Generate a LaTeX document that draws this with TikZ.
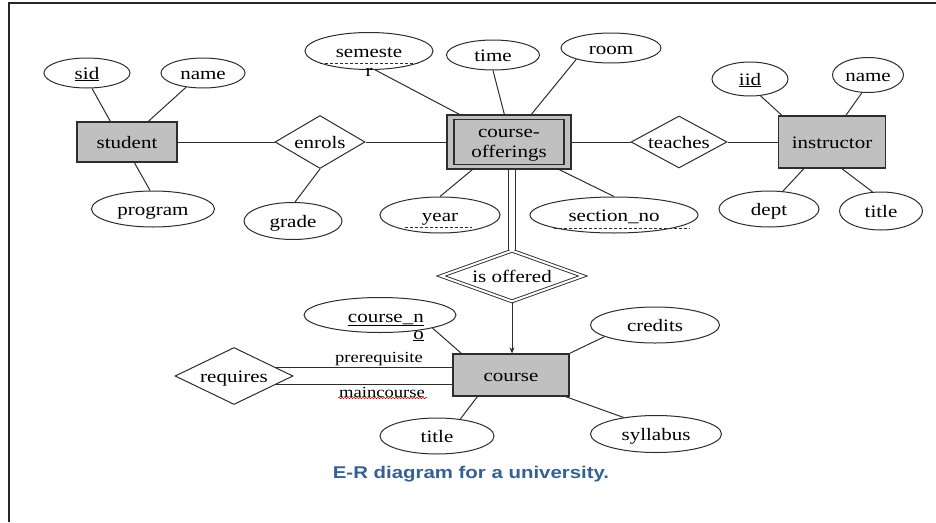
\documentclass[tikz,border=0pt]{standalone}
\usepackage{fontspec}
\setmainfont{Liberation Serif}[FakeStretch=1.2]
\newfontfamily\capfont{Liberation Sans}[FakeStretch=1.2]
\usetikzlibrary{shapes.geometric,arrows.meta,decorations.pathmorphing}
\definecolor{boxgray}{RGB}{192,192,192}
\definecolor{linecol}{RGB}{45,45,45}
\definecolor{capblue}{RGB}{54,96,146}
\begin{document}
\begin{tikzpicture}[x=1pt,y=-1pt,
  every node/.style={font=\fontsize{17.5}{20}\selectfont, text=black, text height=12pt, text depth=0pt},
  attr/.style={ellipse, draw=linecol, line width=1pt, fill=white, inner sep=0pt},
  entity/.style={rectangle, draw=linecol, fill=boxgray, line width=1.3pt, inner sep=0pt},
  rel/.style={diamond, aspect=2, draw=linecol, line width=1pt, fill=white, inner sep=0pt},
  conn/.style={draw=linecol, line width=1pt},
  lab/.style={font=\fontsize{15.5}{18}\selectfont, inner sep=0pt},
  plain/.style={inner sep=0pt},
  dashline/.style={draw=linecol, line width=0.9pt, dash pattern=on 3pt off 2pt}
  ]
\useasboundingbox (0,0) rectangle (936,522);
\draw[line width=1.6pt, black!85] (936,3) -- (9,3) -- (9,522);

% entities
\node[entity, minimum width=100pt, minimum height=40pt] (student) at (127,142) {student};
\node[entity, minimum width=124pt, minimum height=54pt] (co) at (509,142) {};
\node[draw=linecol, line width=1.3pt, minimum width=110pt, minimum height=45pt, inner sep=0pt] (coin) at (co.center) {};
\node[plain, anchor=base] (cotext1) at (509,137) {course-};
\node[plain, anchor=base] (cotext2) at (509,157) {offerings};
\node[entity, minimum width=107pt, minimum height=52pt] (instructor) at (832,142) {instructor};
\node[entity, minimum width=116pt, minimum height=42pt] (course) at (511,375) {course};

% relationships
\node[rel, minimum width=90pt, minimum height=53pt] (enrols) at (320,142) {enrols};
\node[rel, minimum width=96pt, minimum height=52pt] (teaches) at (679,142) {teaches};
\node[rel, aspect=3, minimum width=142pt, minimum height=51pt, double=white, double distance=2pt, line width=0.9pt] (isoff) at (512,276) {is offered};
\node[rel, minimum width=118pt, minimum height=57pt] (requires) at (234,376) {requires};

% attributes
\node[attr, minimum width=86pt, minimum height=30pt] (sid) at (87,73) {\underline{sid}};
\node[attr, minimum width=84pt, minimum height=30pt] (sname) at (203,73) {name};
\node[attr, minimum width=123pt, minimum height=36pt] (program) at (153,209) {program};
\node[attr, minimum width=98pt, minimum height=37pt] (grade) at (293,221) {grade};
\node[attr, minimum width=128pt, minimum height=37pt] (semester) at (369,51) {};
\node[plain, anchor=base] (semtext) at (369,57) {semeste};
\node[plain, anchor=base] (semr) at (369,76) {r};
\node[attr, minimum width=93pt, minimum height=30pt] (time) at (493,55) {time};
\node[attr, minimum width=100pt, minimum height=30pt] (room) at (611,48) {room};
\node[attr, minimum width=120pt, minimum height=36pt] (year) at (440,215) {year};
\node[attr, minimum width=168pt, minimum height=36pt] (section) at (614,215) {section\_no};
\node[attr, minimum width=76pt, minimum height=34pt] (iid) at (750,79) {\underline{iid}};
\node[attr, minimum width=71pt, minimum height=35pt] (iname) at (868,75) {name};
\node[attr, minimum width=100pt, minimum height=36pt] (dept) at (769,209) {dept};
\node[attr, minimum width=83pt, minimum height=38pt] (ititle) at (881,211) {title};
\node[attr, minimum width=152pt, minimum height=35pt] (courseno) at (380,315) {};
\node[plain, anchor=base east] (cntext) at (424,322) {\underline{course\_n}};
\node[plain, anchor=base east] (cno) at (424,339) {\underline{o}};
\node[attr, minimum width=129pt, minimum height=36pt] (credits) at (655,325) {credits};
\node[attr, minimum width=131pt, minimum height=37pt] (syllabus) at (656,434) {syllabus};
\node[attr, minimum width=114pt, minimum height=36pt] (ctitle) at (437,436) {title};

% partial-key dashed underlines
\draw[dashline] (320,63) -- (418,63);
\draw[dashline] (405,227) -- (472,227);
\draw[dashline] (554,228) -- (690,228);

% role labels
\node[lab] (prereq) at (379,356) {prerequisite};
\node[lab] (mainc) at (382,391) {maincourse};
\draw[red, line width=0.5pt, decorate, decoration={snake, amplitude=0.8pt, segment length=3pt}] (338,398) -- (427,398);

% connectors
\draw[conn] (sid.-72) -- ([xshift=34pt]student.north west);
\draw[conn] (sname.-140) -- ([xshift=72pt]student.north west);
\draw[conn] (program.99) -- ([xshift=58pt]student.south west);
\draw[conn] (student.east) -- (enrols.west);
\draw[conn] (enrols.south) -- (grade.84);
\draw[conn] (enrols.east) -- (co.west);
\draw[conn] (semester.-72) -- ([xshift=13pt]co.north west);
\draw[conn] (time.south) -- ([xshift=58pt]co.north west);
\draw[conn] (room.-162) -- ([xshift=85pt]co.north west);
\draw[conn] (year.north) -- ([xshift=26pt]co.south west);
\draw[conn] (section.north) -- ([xshift=113pt]co.south west);
\draw[conn] (co.east) -- (teaches.west);
\draw[conn] (teaches.east) -- (instructor.west);
\draw[conn] (iid.-58) -- ([xshift=4pt]instructor.north west);
\draw[conn] (iname.-109) -- ([xshift=68pt]instructor.north west);
\draw[conn] (dept.52) -- ([xshift=26pt]instructor.south west);
\draw[conn] (ititle.114) -- ([xshift=64pt]instructor.south west);
\draw[linecol, line width=1pt, double=white, double distance=6pt] (isoff.north |- co.south) -- (isoff.north);
\draw[conn, -{Stealth[length=6pt,width=5pt]}] (isoff.south) -- (isoff.south |- course.north);
\draw[conn] (courseno.-14) -- ([xshift=9pt]course.north west);
\draw[conn] (credits.-167) -- (course.north east);
\draw[conn] (syllabus.153) -- ([xshift=-4pt]course.south east);
\draw[conn] (ctitle.36) -- ([xshift=25pt]course.south west);
\draw[conn] (requires.12) -- (requires.12 -| course.west);
\draw[conn] (requires.-12) -- (requires.-12 -| course.west);

% caption
\node[font=\capfont\bfseries\fontsize{17}{20}\selectfont, text=capblue, anchor=base] (cap) at (471,478) {E-R diagram for a university.};
\end{tikzpicture}
\end{document}
